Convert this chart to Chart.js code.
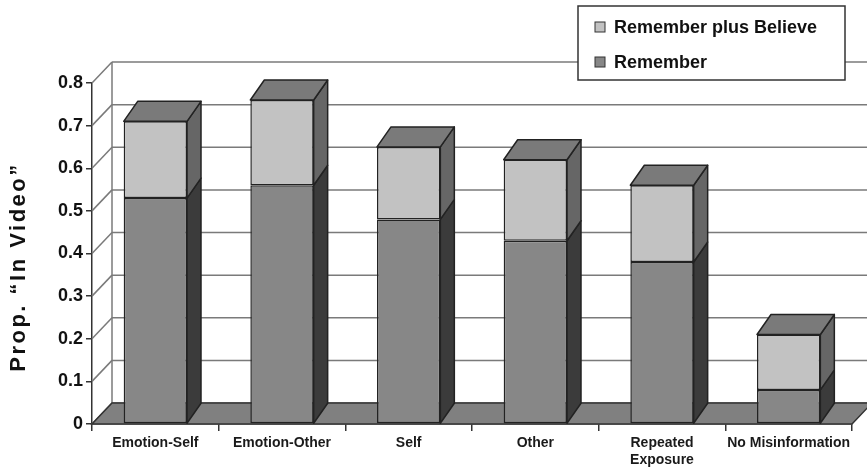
<!DOCTYPE html>
<html>
<head>
<meta charset="utf-8">
<script src="https://cdn.jsdelivr.net/npm/chart.js@4.4.1/dist/chart.umd.min.js"></script>
<style>
  html, body { margin: 0; padding: 0; background: #ffffff; }
  #wrap { width: 867px; height: 469px; position: relative; }
</style>
</head>
<body>
<div id="wrap"><canvas id="chart" width="867" height="469"></canvas></div>
<script>
// Conditions on the x axis
const categories = ['Emotion-Self', 'Emotion-Other', 'Self', 'Other', ['Repeated', 'Exposure'], 'No Misinformation'];
// Proportion judged "in video" on the basis of remembering
const remember = [0.53, 0.56, 0.48, 0.43, 0.38, 0.08];
// Proportion judged "in video" on the basis of remembering plus believing (stack total)
const rememberPlusBelieve = [0.71, 0.76, 0.65, 0.62, 0.56, 0.21];
// Y axis range and step
const yMin = 0, yMax = 0.8, yStep = 0.1;
const seriesNames = ['Remember plus Believe', 'Remember'];
const yTitle = 'Prop. \u201CIn Video\u201D';

const FONT = "'Liberation Sans', Arial, Helvetica, sans-serif";

// Oblique depth of the walls/floor and of the columns
const WALL = { dx: 20, dy: -21 };
const BAR = { dx: 14, dy: -20 };

const COLORS = {
  remember: { front: '#878787', side: '#3b3b3b' },
  believe: { front: '#c2c2c2', side: '#666666' },
  top: '#7a7a7a',
  floor: '#808080',
  edge: '#222222',
  grid: '#7a7a7a'
};

const believeOnly = rememberPlusBelieve.map((t, i) => +(t - remember[i]).toFixed(2));

function line(ctx, x1, y1, x2, y2) {
  ctx.beginPath(); ctx.moveTo(x1, y1); ctx.lineTo(x2, y2); ctx.stroke();
}
function poly(ctx, pts, fill, stroke) {
  ctx.beginPath();
  ctx.moveTo(pts[0][0], pts[0][1]);
  for (let i = 1; i < pts.length; i++) ctx.lineTo(pts[i][0], pts[i][1]);
  ctx.closePath();
  ctx.fillStyle = fill; ctx.fill();
  ctx.strokeStyle = stroke; ctx.stroke();
}

// Back wall, side wall and floor drawn behind the columns
const wallsPlugin = {
  id: 'walls3d',
  beforeDatasetsDraw(chart) {
    const { ctx, chartArea: a, scales: { y } } = chart;
    ctx.save();
    ctx.lineWidth = 1.5;
    ctx.strokeStyle = COLORS.grid;
    y.ticks.forEach(t => {
      const py = y.getPixelForValue(t.value);
      line(ctx, a.left + WALL.dx, py + WALL.dy, chart.width, py + WALL.dy);
      line(ctx, a.left, py, a.left + WALL.dx, py + WALL.dy);
    });
    line(ctx, a.left + WALL.dx, a.top + WALL.dy, a.left + WALL.dx, a.bottom + WALL.dy);
    const y0 = y.getPixelForValue(0);
    poly(ctx, [
      [a.left, y0], [a.right, y0],
      [a.right + WALL.dx, y0 + WALL.dy], [a.left + WALL.dx, y0 + WALL.dy]
    ], COLORS.floor, '#333333');
    ctx.restore();
  },
  afterDatasetsDraw(chart) {
    const { ctx } = chart;
    ctx.save();
    ctx.lineWidth = 1.5;
    ctx.lineJoin = 'round';
    const n = chart.data.datasets.length;
    chart.data.datasets.forEach((ds, di) => {
      const meta = chart.getDatasetMeta(di);
      meta.data.forEach(el => {
        const p = el.getProps(['x', 'y', 'base', 'width'], true);
        const left = p.x - p.width / 2, right = p.x + p.width / 2;
        const top = Math.min(p.y, p.base), bottom = Math.max(p.y, p.base);
        poly(ctx, [
          [right, top], [right + BAR.dx, top + BAR.dy],
          [right + BAR.dx, bottom + BAR.dy], [right, bottom]
        ], ds.sideColor, COLORS.edge);
        if (di === n - 1) {
          poly(ctx, [
            [left, top], [left + BAR.dx, top + BAR.dy],
            [right + BAR.dx, top + BAR.dy], [right, top]
          ], COLORS.top, COLORS.edge);
        }
      });
    });
    ctx.restore();
  },
  afterDraw(chart) {
    const { ctx } = chart;
    ctx.save();
    // Y axis title
    ctx.translate(19, 268);
    ctx.rotate(-Math.PI / 2);
    ctx.font = `bold 22px ${FONT}`;
    ctx.letterSpacing = '2.5px';
    ctx.fillStyle = '#111111';
    ctx.textAlign = 'center';
    ctx.textBaseline = 'middle';
    ctx.fillText(yTitle, 1, 0);
    ctx.restore();

    // Legend box
    ctx.save();
    ctx.fillStyle = '#ffffff';
    ctx.fillRect(578, 6, 267, 74);
    ctx.lineWidth = 1.5;
    ctx.strokeStyle = '#333333';
    ctx.strokeRect(578, 6, 267, 74);
    const fills = [COLORS.believe.front, COLORS.remember.front];
    const rows = [27, 62];
    ctx.font = `bold 18px ${FONT}`;
    ctx.textBaseline = 'middle';
    ctx.textAlign = 'left';
    seriesNames.forEach((name, i) => {
      ctx.fillStyle = fills[i];
      ctx.fillRect(595, rows[i] - 5, 10, 10);
      ctx.lineWidth = 1;
      ctx.strokeStyle = '#333333';
      ctx.strokeRect(595, rows[i] - 5, 10, 10);
      ctx.fillStyle = '#111111';
      ctx.fillText(name, 614, rows[i] + 1);
    });
    ctx.restore();
  }
};

new Chart(document.getElementById('chart'), {
  type: 'bar',
  data: {
    labels: categories,
    datasets: [
      {
        label: seriesNames[1],
        data: remember,
        backgroundColor: COLORS.remember.front,
        sideColor: COLORS.remember.side,
        borderColor: COLORS.edge,
        borderWidth: 1.5,
        borderSkipped: false
      },
      {
        label: seriesNames[0],
        data: believeOnly,
        backgroundColor: COLORS.believe.front,
        sideColor: COLORS.believe.side,
        borderColor: COLORS.edge,
        borderWidth: 1.5,
        borderSkipped: false
      }
    ]
  },
  options: {
    responsive: false,
    animation: false,
    devicePixelRatio: 1,
    layout: { padding: { top: 83, right: 15, bottom: 0, left: 0 } },
    datasets: { bar: { categoryPercentage: 1, barPercentage: 0.5 } },
    plugins: { legend: { display: false }, tooltip: { enabled: false } },
    scales: {
      x: {
        stacked: true,
        afterFit(scale) { scale.height = 45; },
        grid: { drawOnChartArea: false, drawTicks: true, tickLength: 7, color: '#333333', lineWidth: 1.5, offset: true },
        border: { display: true, color: '#333333', width: 1.5 },
        ticks: {
          color: '#1a1a1a',
          padding: 3,
          maxRotation: 0,
          autoSkip: false,
          font: { family: FONT, size: 14, weight: 'bold', lineHeight: 1.25 }
        }
      },
      y: {
        stacked: true,
        min: yMin,
        max: yMax,
        afterFit(scale) { scale.width = 92; },
        grid: { drawOnChartArea: false, drawTicks: true, tickLength: 6, color: '#333333', lineWidth: 1.5 },
        border: { display: true, color: '#333333', width: 1.5 },
        ticks: {
          stepSize: yStep,
          padding: 3,
          color: '#111111',
          font: { family: FONT, size: 18, weight: 'bold' }
        }
      }
    }
  },
  plugins: [wallsPlugin]
});
</script>
</body>
</html>
